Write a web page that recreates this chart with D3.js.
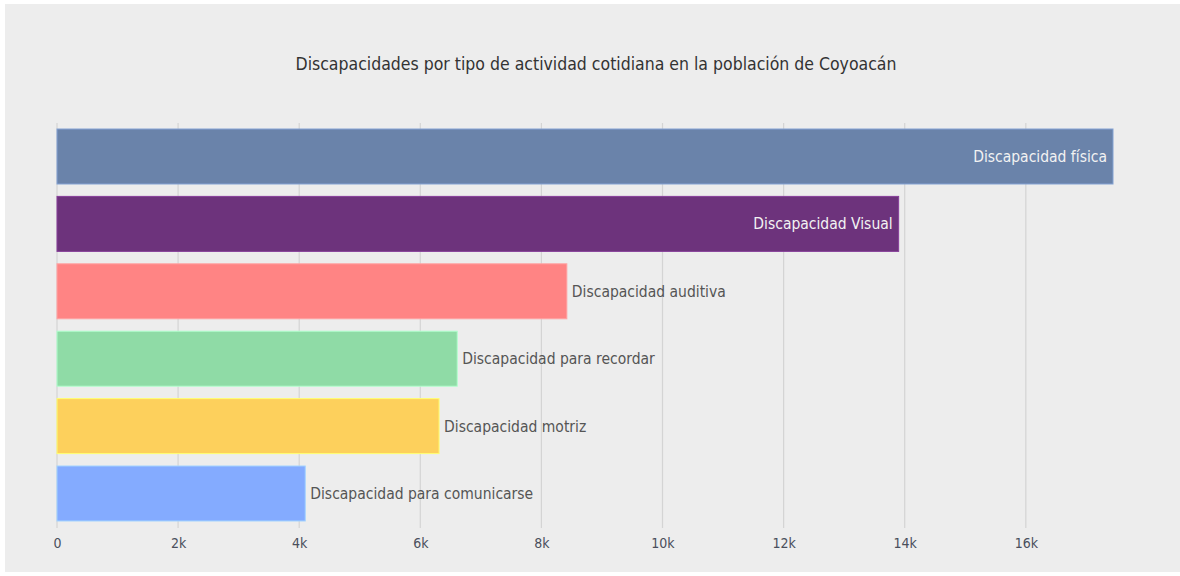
<!DOCTYPE html>
<html>
<head>
<meta charset="utf-8">
<script src="https://cdn.jsdelivr.net/npm/d3@7"></script>
<style>
  body { margin: 0; background: #fff; }
  text { font-family: "DejaVu Sans Condensed", "Liberation Sans Narrow", sans-serif; }
</style>
</head>
<body>
<script>
// data
var categories = ["Discapacidad física", "Discapacidad Visual", "Discapacidad auditiva",
  "Discapacidad para recordar", "Discapacidad motriz", "Discapacidad para comunicarse"];
var values = [17440, 13900, 8420, 6610, 6310, 4100];
var colors = ["#6a83aa", "#6d337c", "#ff8484", "#8fdba6", "#fdd05c", "#84abff"];
var tickValues = [0, 2000, 4000, 6000, 8000, 10000, 12000, 14000, 16000];

var width = 1180, height = 576;

var svg = d3.select("body").append("svg")
  .attr("width", width)
  .attr("height", height);

svg.append("rect")
  .attr("x", 5).attr("y", 4)
  .attr("width", width - 5).attr("height", 568)
  .attr("fill", "#ededed");

svg.append("text")
  .attr("x", 596).attr("y", 70)
  .attr("text-anchor", "middle")
  .attr("font-size", 17.5)
  .attr("fill", "#333")
  .text("Discapacidades por tipo de actividad cotidiana en la población de Coyoacán");

var x = d3.scaleLinear()
  .domain([0, d3.max(values)])
  .range([57, 1113]);

var y = d3.scaleBand()
  .domain(categories)
  .range([129, 521])
  .paddingInner(0.184)
  .paddingOuter(0);

// grid lines
svg.append("g")
  .selectAll("line")
  .data(tickValues)
  .enter().append("line")
  .attr("x1", function(d) { return x(d); })
  .attr("x2", function(d) { return x(d); })
  .attr("y1", 123)
  .attr("y2", 528)
  .attr("stroke", "#d4d4d4")
  .attr("stroke-width", 1.2);

// axis
var axis = svg.append("g")
  .attr("transform", "translate(0,528)")
  .call(d3.axisBottom(x)
    .tickValues(tickValues)
    .tickSize(0)
    .tickPadding(10)
    .tickFormat(function(d) { return d === 0 ? "0" : (d / 1000) + "k"; }));
axis.select(".domain").remove();
axis.selectAll("text")
  .attr("font-size", 14)
  .attr("fill", "#4a4f5c")
  .style("font-family", '"DejaVu Sans Condensed", "Liberation Sans Narrow", sans-serif');

var bars = svg.append("g")
  .selectAll("g")
  .data(categories)
  .enter().append("g");

bars.append("rect")
  .attr("x", x(0))
  .attr("y", function(d) { return y(d); })
  .attr("width", function(d, i) { return x(values[i]) - x(0); })
  .attr("height", y.bandwidth())
  .attr("fill", function(d, i) { return colors[i]; })
  .attr("stroke", function(d, i) { return d3.color(colors[i]).brighter(0.6); })
  .attr("stroke-width", 1);

bars.append("text")
  .attr("x", function(d, i) { return i < 2 ? x(values[i]) - 6 : x(values[i]) + 5; })
  .attr("y", function(d) { return y(d) + y.bandwidth() / 2; })
  .attr("dy", "0.35em")
  .attr("text-anchor", function(d, i) { return i < 2 ? "end" : "start"; })
  .attr("font-size", 15.5)
  .attr("fill", function(d, i) { return i < 2 ? "#f2f2f2" : "#555"; })
  .text(function(d) { return d; });
</script>
</body>
</html>
